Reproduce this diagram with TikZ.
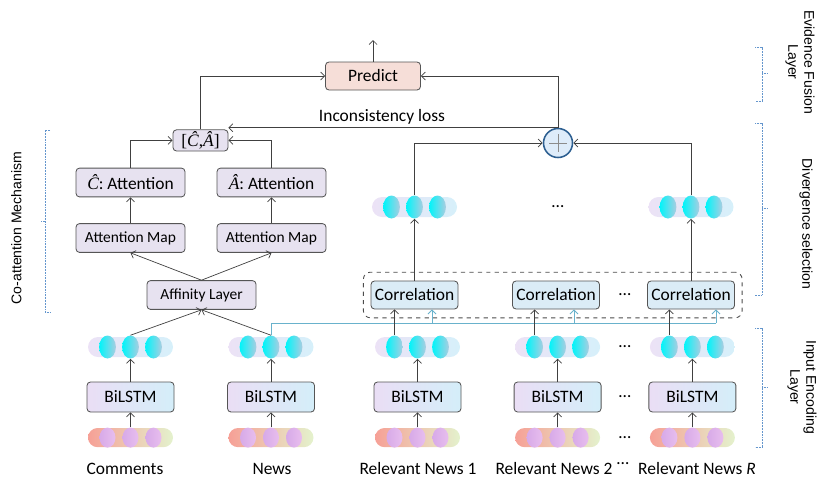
\documentclass[tikz,border=0pt]{standalone}
\usepackage{fontspec}
\setmainfont{Carlito}
\newfontfamily\sidefont{Liberation Sans}
\newfontfamily\symfont{Liberation Serif}
\usepackage{tikz}
\usetikzlibrary{positioning,arrows.meta,fit,calc,shapes.geometric}

\definecolor{boxline}{RGB}{85,85,85}
\definecolor{attfill}{RGB}{231,226,240}
\definecolor{predfill}{RGB}{246,222,216}
\definecolor{corrfill}{RGB}{219,236,246}
\definecolor{lstmleft}{RGB}{234,222,245}
\definecolor{lstmright}{RGB}{212,238,249}
\definecolor{linkblue}{RGB}{105,178,204}
\definecolor{bracecol}{RGB}{100,150,205}
\definecolor{pluscol}{RGB}{45,95,145}
\definecolor{plusfill}{RGB}{222,236,250}
\definecolor{hidleft}{RGB}{236,226,246}
\definecolor{hidright}{RGB}{214,240,250}
\definecolor{dotleft}{RGB}{0,245,250}
\definecolor{dotright}{RGB}{170,205,225}
\definecolor{embleft}{RGB}{246,160,150}
\definecolor{embright}{RGB}{228,242,205}
\definecolor{wordleft}{RGB}{215,170,232}
\definecolor{wordright}{RGB}{232,190,238}

\newcommand{\boxsize}{\fontsize{12.4}{14.5}\selectfont}
\newcommand{\smallsize}{\fontsize{11}{13}\selectfont}
\newcommand{\sidesize}{\fontsize{10}{11.5}\selectfont}
\newcommand{\symit}[1]{{\symfont\itshape #1}}

\tikzset{
  box/.style={draw=boxline, line width=0.6pt, rounded corners=2.5pt, align=center, inner sep=0pt},
  attbox/.style={box, fill=attfill, minimum width=2.725cm, minimum height=0.72cm},
  corrbox/.style={box, fill=corrfill, minimum width=2.175cm, minimum height=0.7cm},
  lstmbox/.style={box, left color=lstmleft, right color=lstmright, minimum width=2.175cm, minimum height=0.75cm},
  hidbar/.style={rounded corners=0.25cm, left color=hidleft, right color=hidright, minimum width=2.125cm, minimum height=0.5cm, inner sep=0pt},
  hiddot/.style={ellipse, left color=dotleft, right color=dotright, minimum width=0.42cm, minimum height=0.575cm, inner sep=0pt},
  embbar/.style={rounded corners=0.24cm, left color=embleft, right color=embright, minimum width=2.125cm, minimum height=0.48cm, inner sep=0pt},
  worddot/.style={ellipse, left color=wordleft, right color=wordright, minimum width=0.4cm, minimum height=0.5cm, inner sep=0pt},
  link/.style={draw=black!75, line width=0.5pt, -{Straight Barb[length=1mm,width=2mm]}},
  bluelink/.style={draw=linkblue, line width=0.6pt},
  brace/.style={draw=bracecol, dash pattern=on 0.6pt off 0.5pt, line width=0.6pt},
  side/.style={font=\sidefont\sidesize, align=center, inner sep=0pt},
}

\newcommand{\hidstack}[3]{%
  \node[hidbar] (#1) at (#2,#3) {};
  \node[hiddot] (#1-1) at (#2-0.575,#3) {};
  \node[hiddot] (#1-2) at (#2,#3) {};
  \node[hiddot] (#1-3) at (#2+0.575,#3) {};
}
\newcommand{\wordstack}[3]{%
  \node[embbar] (#1) at (#2,#3) {};
  \node[worddot] (#1-1) at (#2-0.575,#3) {};
  \node[worddot] (#1-2) at (#2,#3) {};
  \node[worddot] (#1-3) at (#2+0.575,#3) {};
}

\begin{document}
\begin{tikzpicture}[font=\boxsize]
  \useasboundingbox (0,0) rectangle (20.75,-12.2);

  % input encoding layer
  \wordstack{wc}{3.2625}{-10.94}
  \wordstack{wn}{6.775}{-10.94}
  \wordstack{wr1}{10.4375}{-10.94}
  \wordstack{wr2}{13.94}{-10.94}
  \wordstack{wr3}{17.31}{-10.94}

  \node[lstmbox] (lc) at (3.2625,-9.925) {BiLSTM};
  \node[lstmbox] (ln) at (6.775,-9.925) {BiLSTM};
  \node[lstmbox] (lr1) at (10.4375,-9.925) {BiLSTM};
  \node[lstmbox] (lr2) at (13.94,-9.925) {BiLSTM};
  \node[lstmbox] (lr3) at (17.31,-9.925) {BiLSTM};

  \hidstack{hc}{3.2625}{-8.675}
  \hidstack{hn}{6.775}{-8.675}
  \hidstack{hr1}{10.4375}{-8.675}
  \hidstack{hr2}{13.94}{-8.675}
  \hidstack{hr3}{17.31}{-8.675}

  \node (dotsh) at (15.625,-8.675) {…};
  \node (dotsl) at (15.625,-9.925) {…};
  \node (dotsw) at (15.625,-10.94) {…};

  \node (tc) at (3.125,-11.72) {Comments};
  \node (tn) at (6.8,-11.72) {News};
  \node (tr1) at (10.45,-11.72) {Relevant News 1};
  \node (tr2) at (13.85,-11.72) {Relevant News 2};
  \node (dotst) at (15.575,-11.6) {…};
  \node (tr3) at (17.425,-11.72) {Relevant News \textit{R}};

  \foreach \col in {c,n,r1,r2,r3} {
    \draw[link] (w\col-2.north) -- (l\col.south);
    \draw[link] (l\col.north) -- (h\col-2.south);
  }

  % co-attention mechanism
  \node[attbox, font=\smallsize] (aff) at (5.0375,-7.375) {Affinity Layer};
  \node[attbox, font=\smallsize] (mapc) at (3.2625,-5.95) {Attention Map};
  \node[attbox, font=\smallsize] (mapa) at (6.7875,-5.95) {Attention Map};
  \node[attbox] (attc) at (3.2625,-4.5625) {\symit{Ĉ}: Attention};
  \node[attbox] (atta) at (6.7875,-4.5625) {\symit{Â}: Attention};
  \node[box, fill=attfill, minimum width=1.375cm, minimum height=0.53cm] (cat) at (5.0125,-3.51) {\symfont[\symit{Ĉ},\symit{Â}]};

  \draw[link] (hc-2.north) -- (aff.south);
  \draw[link] (hn-2.north) -- (aff.south);
  \draw[link] (aff.north) -- (mapc.south);
  \draw[link] (aff.north) -- (mapa.south);
  \draw[link] (mapc.north) -- (attc.south);
  \draw[link] (mapa.north) -- (atta.south);
  \draw[link] (attc.north) |- (cat.west);
  \draw[link] (atta.north) |- (cat.east);

  % divergence selection
  \node[corrbox] (corr1) at (10.3625,-7.375) {Correlation};
  \node[corrbox] (corr2) at (13.9,-7.375) {Correlation};
  \node[corrbox] (corr3) at (17.275,-7.375) {Correlation};
  \node (dotsc) at (15.625,-7.375) {…};
  \node[draw=black!70, dashed, line width=0.6pt, rounded corners=5pt, inner xsep=0.18cm, inner ysep=0.21cm, fit=(corr1)(corr3)] (corrgrp) {};

  \coordinate (tap1) at (10.8,-8.075);
  \coordinate (tap2) at (14.35,-8.075);
  \coordinate (tap3) at (17.9,-8.075);
  \draw[bluelink] (hn-2.north) |- (tap3);
  \draw[bluelink, -{Straight Barb[length=1mm,width=2mm]}] (tap1) -- (tap1 |- corr1.south);
  \draw[bluelink, -{Straight Barb[length=1mm,width=2mm]}] (tap2) -- (tap2 |- corr2.south);
  \draw[bluelink, -{Straight Barb[length=1mm,width=2mm]}] (tap3) -- (tap3 |- corr3.south);
  \draw[link] (hr1-1.north) -- (hr1-1.north |- corr1.south);
  \draw[link] (hr2-1.north) -- (hr2-1.north |- corr2.south);
  \draw[link] (hr3-1.north) -- (hr3-1.north |- corr3.south);

  \hidstack{div1}{10.3625}{-5.175}
  \hidstack{div2}{17.275}{-5.175}
  \node (dotsd) at (13.95,-5.175) {…};
  \draw[link] (corr1.north) -- (div1-2.south);
  \draw[link] (corr3.north) -- (div2-2.south);

  % evidence fusion
  \node[circle, draw=pluscol, line width=1.1pt, fill=plusfill, minimum size=0.725cm, inner sep=0pt] (plus) at (13.95,-3.575) {};
  \draw[black!45, line width=0.5pt] ($(plus.center)+(-0.22,0)$) -- ($(plus.center)+(0.22,0)$);
  \draw[black!45, line width=0.5pt] ($(plus.center)+(0,-0.22)$) -- ($(plus.center)+(0,0.22)$);
  \draw[link] (div1-2.north) |- (plus.west);
  \draw[link] (div2-2.north) |- (plus.east);

  \node[box, fill=predfill, minimum width=2.375cm, minimum height=0.7cm] (pred) at (9.325,-1.9) {Predict};
  \coordinate (out) at (9.325,-1.0);
  \draw[link] (pred.north) -- (out);
  \draw[link] (cat.north) |- (pred.west);
  \draw[link] (plus.north) |- (pred.east);
  \draw[link, {Straight Barb[length=1mm,width=2mm]}-] (plus.north -| cat.north east) -- (plus.north);
  \node (loss) at (9.55,-2.925) {Inconsistency loss};

  % layer braces
  \draw[brace] (1.25,-3.25) -- (1.125,-3.25) -- (1.125,-7.8) -- (1.25,-7.8);
  \draw[brace] (1.125,-5.525) -- (1.025,-5.525);
  \node[side, rotate=90] (coatt) at (0.41,-5.7) {Co-attention Mechanism};

  \draw[brace] (18.875,-1.175) -- (19.05,-1.175) -- (19.05,-2.525) -- (18.875,-2.525);
  \draw[brace] (19.05,-1.825) -- (19.175,-1.825);
  \node[side, rotate=-90] (evid) at (20.0,-1.55) {Evidence Fusion\\Layer};

  \draw[brace] (18.875,-3.075) -- (19.05,-3.075) -- (19.05,-7.375) -- (18.875,-7.375);
  \draw[brace] (19.05,-5.2) -- (19.175,-5.2);
  \node[side, rotate=-90] (divg) at (20.15,-5.6) {Divergence selection};

  \draw[brace] (18.875,-8.2) -- (19.05,-8.2) -- (19.05,-11.175) -- (18.875,-11.175);
  \draw[brace] (19.05,-9.675) -- (19.175,-9.675);
  \node[side, rotate=-90] (inpt) at (20.05,-9.675) {Input Encoding\\Layer};
\end{tikzpicture}
\end{document}
